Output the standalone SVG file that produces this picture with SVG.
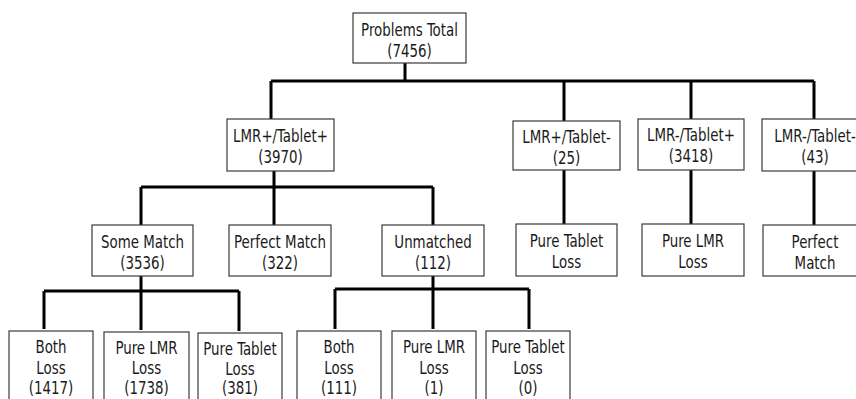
<svg xmlns="http://www.w3.org/2000/svg" width="856" height="399" viewBox="0 0 856 399">
<style>
.box{fill:#fff;stroke:#3a3a3a;stroke-width:1.2}
.t{font-family:"DejaVu Sans Condensed","DejaVu Sans",sans-serif;font-size:17.5px;fill:#1a1a1a;text-anchor:middle}
.c{fill:none;stroke:#000;stroke-width:3}
</style>
<rect width="856" height="399" fill="#fff"/>
<g id="connectors">
<path class="c" d="M405 63V81M271 81H814M271 81V119M564 81V121M691 81V119M814 81V119"/>
<path class="c" d="M564 170V224M691 170V224M814 171V225"/>
<path class="c" d="M274 171V187M141 187H433M141 187V225M274 187V225M433 187V225"/>
<path class="c" d="M141 276V291M44 291H239M44 291V329M141 291V330M239 291V331"/>
<path class="c" d="M433 276V289M335 289H529M335 289V329M433 289V329M529 289V329"/>
</g>
<g id="n-total"><rect class="box" x="353" y="13" width="113" height="50"/><text class="t" transform="translate(409.5,36) scale(0.85,1)">Problems Total</text><text class="t" transform="translate(409.5,57) scale(0.85,1)">(7456)</text></g>
<g id="n-lpp"><rect class="box" x="227" y="119" width="107" height="52"/><text class="t" transform="translate(280.5,142) scale(0.85,1)">LMR+/Tablet+</text><text class="t" transform="translate(280.5,163) scale(0.85,1)">(3970)</text></g>
<g id="n-lpm"><rect class="box" x="513" y="121" width="107" height="49"/><text class="t" transform="translate(566.5,143) scale(0.85,1)">LMR+/Tablet-</text><text class="t" transform="translate(566.5,164) scale(0.85,1)">(25)</text></g>
<g id="n-lmp"><rect class="box" x="638" y="119" width="106" height="51"/><text class="t" transform="translate(691,141) scale(0.85,1)">LMR-/Tablet+</text><text class="t" transform="translate(691,162) scale(0.85,1)">(3418)</text></g>
<g id="n-lmm"><rect class="box" x="762" y="119" width="106" height="52"/><text class="t" transform="translate(815,142) scale(0.85,1)">LMR-/Tablet-</text><text class="t" transform="translate(815,163) scale(0.85,1)">(43)</text></g>
<g id="n-ptl"><rect class="box" x="516" y="224" width="101" height="52"/><text class="t" transform="translate(566.5,247) scale(0.85,1)">Pure Tablet</text><text class="t" transform="translate(566.5,268) scale(0.85,1)">Loss</text></g>
<g id="n-plm"><rect class="box" x="642" y="224" width="102" height="52"/><text class="t" transform="translate(693,247) scale(0.85,1)">Pure LMR</text><text class="t" transform="translate(693,268) scale(0.85,1)">Loss</text></g>
<g id="n-pm2"><rect class="box" x="763" y="225" width="104" height="51"/><text class="t" transform="translate(815,248) scale(0.85,1)">Perfect</text><text class="t" transform="translate(815,269) scale(0.85,1)">Match</text></g>
<g id="n-some"><rect class="box" x="92" y="225" width="101" height="51"/><text class="t" transform="translate(142.5,248) scale(0.85,1)">Some Match</text><text class="t" transform="translate(142.5,269) scale(0.85,1)">(3536)</text></g>
<g id="n-perfect"><rect class="box" x="229" y="225" width="102" height="51"/><text class="t" transform="translate(280,248) scale(0.85,1)">Perfect Match</text><text class="t" transform="translate(280,269) scale(0.85,1)">(322)</text></g>
<g id="n-unm"><rect class="box" x="382" y="225" width="102" height="51"/><text class="t" transform="translate(433,248) scale(0.85,1)">Unmatched</text><text class="t" transform="translate(433,269) scale(0.85,1)">(112)</text></g>
<g id="n-s1"><rect class="box" x="9" y="331" width="84" height="80"/><text class="t" transform="translate(51,353) scale(0.85,1)">Both</text><text class="t" transform="translate(51,374) scale(0.85,1)">Loss</text><text class="t" transform="translate(51,394) scale(0.85,1)">(1417)</text></g>
<g id="n-s2"><rect class="box" x="104" y="332" width="85" height="80"/><text class="t" transform="translate(146.5,354) scale(0.85,1)">Pure LMR</text><text class="t" transform="translate(146.5,374) scale(0.85,1)">Loss</text><text class="t" transform="translate(146.5,394) scale(0.85,1)">(1738)</text></g>
<g id="n-s3"><rect class="box" x="198" y="333" width="84" height="80"/><text class="t" transform="translate(240,355) scale(0.85,1)">Pure Tablet</text><text class="t" transform="translate(240,375) scale(0.85,1)">Loss</text><text class="t" transform="translate(240,394) scale(0.85,1)">(381)</text></g>
<g id="n-u1"><rect class="box" x="297" y="331" width="84" height="80"/><text class="t" transform="translate(339,353) scale(0.85,1)">Both</text><text class="t" transform="translate(339,374) scale(0.85,1)">Loss</text><text class="t" transform="translate(339,394) scale(0.85,1)">(111)</text></g>
<g id="n-u2"><rect class="box" x="392" y="331" width="84" height="80"/><text class="t" transform="translate(434,353) scale(0.85,1)">Pure LMR</text><text class="t" transform="translate(434,374) scale(0.85,1)">Loss</text><text class="t" transform="translate(434,394) scale(0.85,1)">(1)</text></g>
<g id="n-u3"><rect class="box" x="486" y="331" width="84" height="80"/><text class="t" transform="translate(528,353) scale(0.85,1)">Pure Tablet</text><text class="t" transform="translate(528,374) scale(0.85,1)">Loss</text><text class="t" transform="translate(528,394) scale(0.85,1)">(0)</text></g>
</svg>
